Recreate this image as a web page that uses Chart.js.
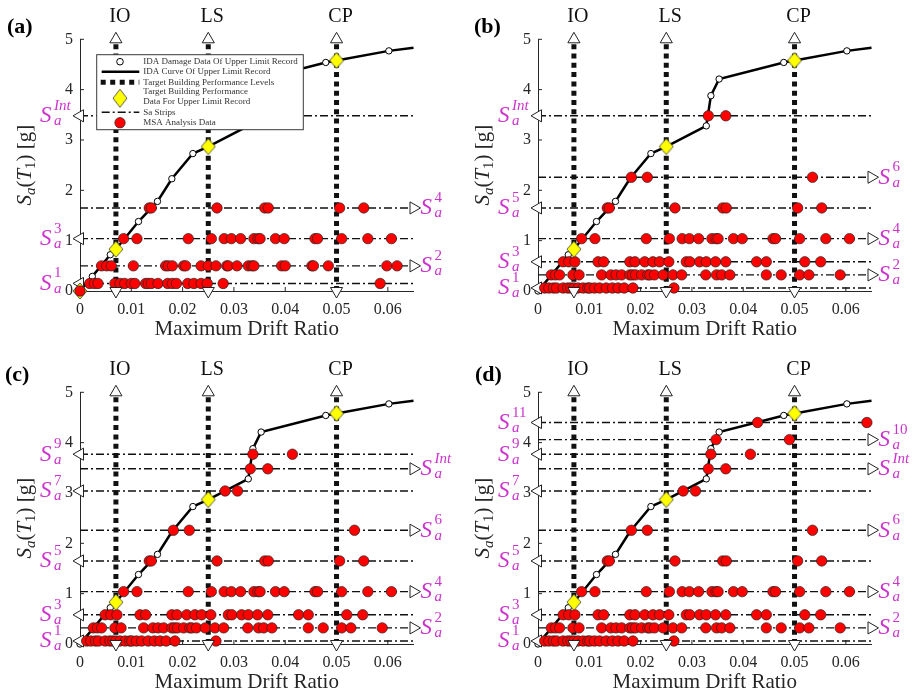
<!DOCTYPE html>
<html>
<head>
<meta charset="utf-8">
<script src="https://cdn.jsdelivr.net/npm/chart.js@4.4.1/dist/chart.umd.min.js"></script>
<style>
  html, body { margin: 0; padding: 0; background: #fff; }
  #wrap { position: relative; width: 916px; height: 697px; }
  canvas { position: absolute; }
</style>
</head>
<body>
<div id="wrap">
  <canvas id="pa" width="458" height="340" style="left:0;top:0"></canvas>
  <canvas id="pb" width="458" height="340" style="left:458px;top:0"></canvas>
  <canvas id="pc" width="458" height="357" style="left:0;top:340px"></canvas>
  <canvas id="pd" width="458" height="357" style="left:458px;top:340px"></canvas>
</div>
<script>
// Limites de los ejes
const xMax = 0.065;
const yMax = 5;

// Curva IDA del registro limite superior
const curveDrift = [0, 0.0024, 0.0059, 0.007, 0.0114, 0.0151, 0.0179, 0.022, 0.025, 0.0328, 0.0337, 0.0353, 0.0479, 0.05, 0.0602, 0.065];
const curveSa = [0, 0.29, 0.72, 0.83, 1.38, 1.78, 2.23, 2.73, 2.87, 3.28, 3.88, 4.21, 4.54, 4.58, 4.77, 4.83];

// Datos de dano IDA (circulos blancos)
const idaDrift = [0, 0.0024, 0.0059, 0.0114, 0.0151, 0.0179, 0.022, 0.0328, 0.0337, 0.0353, 0.0479, 0.0602];
const idaSa = [0, 0.29, 0.72, 1.38, 1.78, 2.23, 2.73, 3.28, 3.88, 4.21, 4.54, 4.77];

// Niveles de desempeno objetivo
const perfLabels = ['IO', 'LS', 'CP'];
const perfDrift = [0.007, 0.025, 0.05];
const perfSa = [0.83, 2.87, 4.58];

// Franjas Sa (g)
const stripSa = [0.15, 0.50, 0.06, 0.32, 0.58, 1.04, 1.65, 2.26, 3.04, 3.48, 3.77, 4.06, 4.40];

// Datos MSA por franja (deriva maxima)
const msaA1 = [0.0019, 0.0028, 0.0035, 0.0068, 0.0078, 0.0087, 0.0100, 0.0107, 0.0128, 0.0133, 0.0139, 0.0152, 0.0171, 0.0180, 0.0188, 0.0210, 0.0222, 0.0236, 0.0248, 0.0279, 0.0585];
const msaA2 = [0.0042, 0.0052, 0.0061, 0.0104, 0.0167, 0.0172, 0.0180, 0.0202, 0.0206, 0.0236, 0.0250, 0.0265, 0.0286, 0.0289, 0.0306, 0.0328, 0.0335, 0.0339, 0.0393, 0.0400, 0.0452, 0.0455, 0.0484, 0.0598, 0.0618];
const msaS1 = [0.0013, 0.0021, 0.0030, 0.0036, 0.0049, 0.0058, 0.0064, 0.0070, 0.0078, 0.0088, 0.0097, 0.0101, 0.0110, 0.0120, 0.0133, 0.0145, 0.0156, 0.0168, 0.0185, 0.0265];
const msaS2 = [0.0026, 0.0034, 0.0042, 0.0068, 0.0080, 0.0124, 0.0142, 0.0152, 0.0163, 0.0179, 0.0184, 0.0190, 0.0202, 0.0214, 0.0218, 0.0227, 0.0244, 0.0263, 0.0280, 0.0327, 0.0348, 0.0358, 0.0374, 0.0445, 0.0474, 0.0510, 0.0528, 0.0589];
const msaS3 = [0.0049, 0.0060, 0.0072, 0.0117, 0.0128, 0.0179, 0.0189, 0.0208, 0.0224, 0.0237, 0.0255, 0.0289, 0.0296, 0.0315, 0.0328, 0.0346, 0.0366, 0.0426, 0.0445, 0.0520, 0.0551];
const msaS4 = [0.0085, 0.0111, 0.0211, 0.0256, 0.0281, 0.0295, 0.0313, 0.0339, 0.0347, 0.0351, 0.0381, 0.0398, 0.0458, 0.0463, 0.0510, 0.0561, 0.0607];
const msaS5 = [0.0135, 0.0139, 0.0267, 0.0360, 0.0367, 0.0506, 0.0553];
const msaS6 = [0.0182, 0.0213, 0.0535];
const msaS7 = [0.0283, 0.0307];
const msaInt = [0.0332, 0.0366];
const msaS9 = [0.0337, 0.0414];
const msaS10 = [0.0347, 0.0490];
const msaS11 = [0.0428, 0.0641];
const stripMsa = [msaA1, msaA2, msaS1, msaS2, msaS3, msaS4, msaS5, msaS6, msaS7, msaInt, msaS9, msaS10, msaS11];

// Punto inicial del panel (a)
const originDrift = [0];
const originSa = [0];

// Franjas de cada panel: [indice, superindice, lado]
const stripsA = [[0, '1', 'L'], [1, '2', 'R'], [5, '3', 'L'], [6, '4', 'R'], [9, 'Int', 'L']];
const stripsB = [[2, '1', 'L'], [3, '2', 'R'], [4, '3', 'L'], [5, '4', 'R'], [6, '5', 'L'], [7, '6', 'R'], [9, 'Int', 'L']];
const stripsC = [[2, '1', 'L'], [3, '2', 'R'], [4, '3', 'L'], [5, '4', 'R'], [6, '5', 'L'], [7, '6', 'R'], [8, '7', 'L'], [9, 'Int', 'R'], [10, '9', 'L']];
const stripsD = stripsC.concat([[11, '10', 'R'], [12, '11', 'L']]);

const serif = '"Liberation Serif", "Times New Roman", serif';
const axisColor = '#262626';
const magenta = '#cc33cc';

// Rombo amarillo como imagen de punto
function makeDiamond(w, h) {
    const c = document.createElement('canvas');
    c.width = w + 2; c.height = h + 2;
    const g = c.getContext('2d');
    g.beginPath();
    g.moveTo(c.width / 2, 1);
    g.lineTo(c.width - 1, c.height / 2);
    g.lineTo(c.width / 2, c.height - 1);
    g.lineTo(1, c.height / 2);
    g.closePath();
    g.fillStyle = '#ffff00';
    g.fill();
    g.strokeStyle = '#333';
    g.lineWidth = 0.8;
    g.stroke();
    return c;
}
const diamondImg = makeDiamond(14, 16);
const diamondLegend = makeDiamond(14, 18);

function pts(xs, ys) {
    return xs.map((v, i) => ({ x: v, y: ys[i] }));
}

// Etiqueta S_a^k en magenta
function drawSLabel(ctx, x, y, sup) {
    ctx.fillStyle = magenta;
    ctx.textAlign = 'left';
    ctx.textBaseline = 'alphabetic';
    ctx.font = 'italic 23px ' + serif;
    ctx.fillText('S', x, y + 6.5);
    ctx.font = (isNaN(+sup) ? 'italic ' : '') + '15px ' + serif;
    ctx.fillText(sup, x + 14, y - 6);
    ctx.font = 'italic 15px ' + serif;
    ctx.fillText('a', x + 14, y + 9.5);
}

// Titulo del eje Y: S_a(T_1) [g]
function drawYTitle(ctx, cx, cy) {
    const parts = [
        ['S', 'italic 21px ', 0], ['a', 'italic 15px ', 4], ['(', '21px ', 0], ['T', 'italic 21px ', 0],
        ['1', '15px ', 4], [')', '21px ', 0], [' [g]', '21px ', 0]
    ];
    ctx.save();
    ctx.translate(cx, cy);
    ctx.rotate(-Math.PI / 2);
    ctx.fillStyle = axisColor;
    ctx.textAlign = 'left';
    ctx.textBaseline = 'alphabetic';
    let total = 0;
    parts.forEach(p => { ctx.font = p[1] + serif; total += ctx.measureText(p[0]).width; });
    let tx = -total / 2;
    parts.forEach(p => {
        ctx.font = p[1] + serif;
        ctx.fillText(p[0], tx, 6 + p[2]);
        tx += ctx.measureText(p[0]).width;
    });
    ctx.restore();
}

// Leyenda del panel (a)
function drawLegend(ctx, a) {
    const bx = a.left + 16.7, by = a.top + 15.4, bw = 206.6, bh = 75;
    const mx = bx + 23.3, tx = bx + 46.6, l0 = bx + 5, l1 = bx + 42.6;
    ctx.save();
    ctx.fillStyle = '#fff';
    ctx.fillRect(bx, by, bw, bh);
    ctx.strokeStyle = '#3a3a3a';
    ctx.lineWidth = 1;
    ctx.strokeRect(bx, by, bw, bh);

    const rows = [7, 17, 27.6, 37, 47, 57.6, 68].map(v => by + v);
    // circulo blanco
    ctx.beginPath(); ctx.arc(mx, rows[0], 3.3, 0, Math.PI * 2);
    ctx.fillStyle = '#fff'; ctx.fill(); ctx.strokeStyle = '#000'; ctx.lineWidth = 1; ctx.stroke();
    // linea IDA
    ctx.beginPath(); ctx.moveTo(l0, rows[1]); ctx.lineTo(l1, rows[1]);
    ctx.lineWidth = 2.5; ctx.stroke();
    // niveles de desempeno
    ctx.beginPath(); ctx.setLineDash([5, 4.5]); ctx.moveTo(l0 - 1, rows[2]); ctx.lineTo(l1, rows[2]);
    ctx.lineWidth = 5; ctx.strokeStyle = '#111'; ctx.stroke(); ctx.setLineDash([]);
    // rombo
    ctx.drawImage(diamondLegend, mx - diamondLegend.width / 2, by + 43.6 - diamondLegend.height / 2);
    // franjas
    ctx.beginPath(); ctx.setLineDash([8, 3, 2, 3]); ctx.moveTo(l0, rows[5]); ctx.lineTo(l1, rows[5]);
    ctx.lineWidth = 1.4; ctx.strokeStyle = '#111'; ctx.stroke(); ctx.setLineDash([]);
    // circulo rojo
    ctx.beginPath(); ctx.arc(mx, rows[6], 5.2, 0, Math.PI * 2);
    ctx.fillStyle = '#ff0000'; ctx.fill(); ctx.strokeStyle = '#222'; ctx.lineWidth = 0.7; ctx.stroke();

    const texts = ['IDA Damage Data Of Upper Limit Record', 'IDA Curve Of Upper Limit Record',
        'Target Building Performance Levels', 'Target Building Performance', 'Data For Upper Limit Record',
        'Sa Strips', 'MSA Analysis Data'];
    ctx.fillStyle = '#333';
    ctx.font = '9px ' + serif;
    ctx.textAlign = 'left';
    ctx.textBaseline = 'middle';
    texts.forEach((t, i) => ctx.fillText(t, tx, rows[i]));
    ctx.restore();
}

function makeDecor(strips, letter, lx, ly, withLegend) {
    return {
        id: 'decor' + letter,
        beforeDatasetsDraw(chart) {
            const { ctx, chartArea: a, scales: { x, y } } = chart;
            ctx.save();
            ctx.strokeStyle = axisColor;
            ctx.lineWidth = 1;
            ctx.beginPath();
            x.ticks.forEach(t => { const p = x.getPixelForValue(t.value); ctx.moveTo(p, a.bottom); ctx.lineTo(p, a.bottom - 4); });
            y.ticks.forEach(t => { const p = y.getPixelForValue(t.value); ctx.moveTo(a.left, p); ctx.lineTo(a.left + 4, p); });
            ctx.stroke();
            ctx.restore();
        },
        afterDraw(chart) {
            const { ctx, chartArea: a, scales: { x, y } } = chart;
            ctx.save();
            // etiquetas de franjas
            strips.forEach(s => {
                const py = y.getPixelForValue(stripSa[s[0]]);
                drawSLabel(ctx, s[2] === 'L' ? a.left - 40 : a.right + 7, py, s[1]);
            });
            // IO, LS, CP
            ctx.fillStyle = '#111';
            ctx.font = '20px ' + serif;
            ctx.textAlign = 'center';
            ctx.textBaseline = 'middle';
            perfLabels.forEach((t, i) => ctx.fillText(t, x.getPixelForValue(perfDrift[i]) + 4, a.top - 23));
            // letra del panel
            ctx.font = 'bold 22px ' + serif;
            ctx.textAlign = 'left';
            ctx.fillStyle = '#000';
            ctx.fillText('(' + letter + ')', lx, ly);
            ctx.restore();
            drawYTitle(ctx, a.left - 55, (a.top + a.bottom) / 2);
            if (withLegend) drawLegend(ctx, a);
        }
    };
}

function buildPanel(id, strips, letter, lx, ly, withLegend) {
    const canvas = document.getElementById(id);
    const top = canvas.height > 345 ? 52.3 : 39.3;
    const bottomPad = canvas.height - (top + 251.7) - 49;
    const datasets = [];

    // lineas de franjas
    strips.forEach(s => {
        datasets.push({
            data: [{ x: 0, y: stripSa[s[0]] }, { x: xMax, y: stripSa[s[0]] }],
            showLine: true, borderColor: '#111', borderWidth: 1.4, borderDash: [8, 3, 2, 3],
            pointRadius: 0, clip: false, order: 90
        });
    });
    // niveles de desempeno verticales
    perfDrift.forEach(d => {
        datasets.push({
            data: [{ x: d, y: 0 }, { x: d, y: yMax }],
            showLine: true, borderColor: '#111', borderWidth: 5, borderDash: [5, 4.3],
            pointRadius: 0, clip: false, order: 80
        });
    });
    // curva IDA
    datasets.push({
        data: pts(curveDrift, curveSa), showLine: true, borderColor: '#000', borderWidth: 2.5,
        pointRadius: 0, clip: false, order: 70
    });
    // datos de dano IDA
    datasets.push({
        data: pts(idaDrift, idaSa), pointRadius: 3.2, pointBackgroundColor: '#fff',
        pointBorderColor: '#000', pointBorderWidth: 1, clip: false, order: 60
    });
    // triangulos de las franjas
    datasets.push({
        data: strips.map(s => ({ x: s[2] === 'L' ? 0 : xMax, y: stripSa[s[0]] })),
        pointStyle: 'triangle', pointRotation: strips.map(s => s[2] === 'L' ? 270 : 90),
        pointRadius: 7, pointBackgroundColor: '#fff', pointBorderColor: '#222', pointBorderWidth: 1,
        clip: false, order: 55
    });
    // datos MSA
    let msa = [];
    strips.forEach(s => { msa = msa.concat(stripMsa[s[0]].map(d => ({ x: d, y: stripSa[s[0]] }))); });
    if (withLegend) msa = msa.concat(pts(originDrift, originSa));
    datasets.push({
        data: msa, pointRadius: 5.2, pointBackgroundColor: '#ff0000',
        pointBorderColor: '#222', pointBorderWidth: 0.7, clip: false, order: 50
    });
    // triangulos superiores e inferiores
    datasets.push({
        data: perfDrift.map(d => ({ x: d, y: yMax })).concat(perfDrift.map(d => ({ x: d, y: 0 }))),
        pointStyle: 'triangle', pointRotation: perfDrift.map(() => 0).concat(perfDrift.map(() => 180)),
        pointRadius: 7, pointBackgroundColor: '#fff', pointBorderColor: '#222', pointBorderWidth: 1,
        clip: false, order: 45
    });
    // rombos de desempeno
    datasets.push({
        data: pts(perfDrift, perfSa), pointStyle: diamondImg, pointRadius: 8, clip: false, order: 40
    });
    if (withLegend) {
        datasets.push({ data: pts(originDrift, originSa), pointStyle: diamondImg, pointRadius: 8, clip: false, order: 52 });
    }

    return new Chart(canvas, {
        type: 'scatter',
        data: { datasets: datasets },
        options: {
            responsive: false,
            animation: false,
            events: [],
            layout: { padding: { left: 0, right: 44.5, top: top, bottom: bottomPad } },
            plugins: { legend: { display: false }, tooltip: { enabled: false } },
            scales: {
                x: {
                    type: 'linear', min: 0, max: xMax,
                    grid: { display: false, drawTicks: false },
                    border: { display: true, color: axisColor, width: 1 },
                    ticks: {
                        stepSize: 0.01, includeBounds: false, autoSkip: false, maxRotation: 0,
                        padding: 9, color: axisColor, font: { family: serif, size: 16 },
                        callback: v => v === 0 ? '0' : (+v.toFixed(2)).toString()
                    },
                    title: {
                        display: true, text: 'Maximum Drift Ratio', color: axisColor, padding: 0,
                        font: { family: serif, size: 21, lineHeight: 1 }
                    },
                    afterFit: s => { s.height = 49; s.paddingLeft = 0; s.paddingRight = 0; }
                },
                y: {
                    type: 'linear', min: 0, max: yMax,
                    grid: { display: false, drawTicks: false },
                    border: { display: true, color: axisColor, width: 1 },
                    ticks: { stepSize: 1, padding: 7, color: axisColor, font: { family: serif, size: 16 } },
                    afterFit: s => { s.width = 80; s.paddingTop = 0; s.paddingBottom = 0; }
                }
            }
        },
        plugins: [makeDecor(strips, letter, lx, ly, withLegend)]
    });
}

buildPanel('pa', stripsA, 'a', 7, 27, true);
buildPanel('pb', stripsB, 'b', 16, 27, false);
buildPanel('pc', stripsC, 'c', 5, 35, false);
buildPanel('pd', stripsD, 'd', 17, 35, false);
</script>
</body>
</html>
